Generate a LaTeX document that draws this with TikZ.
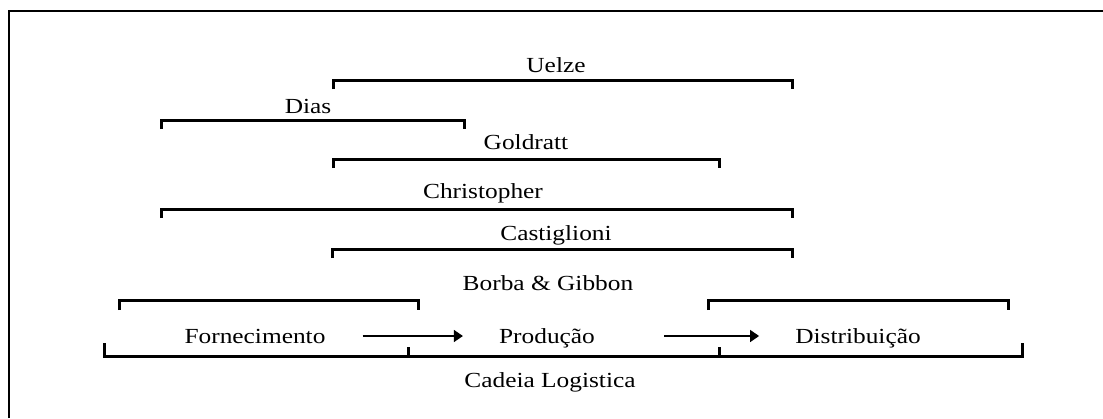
\documentclass[tikz,border=0pt]{standalone}
\usepackage{fontspec}
\setmainfont{Liberation Serif}[FakeStretch=1.18]
\usetikzlibrary{arrows.meta}
\tikzset{
    lbl/.style={inner sep=0pt, anchor=base, font=\fontsize{21.5}{25}\selectfont},
    brk/.style={line width=3pt, line join=miter},
    arr/.style={-{Triangle[length=9pt,width=12pt]}, line width=1.5pt}
}
\begin{document}
\begin{tikzpicture}[x=1pt, y=-1pt]
    \useasboundingbox (0,0) rectangle (1103,418);
    \draw[line width=2.8pt](9,418)--(9,11)--(1103,11);
% authors
\foreach \name/\txt/\xt/\yt/\xa/\xb/\yb in {uelze/Uelze/556/72/333/792/80,
    dias/Dias/308/113/161/464/120,
    goldratt/Goldratt/526/149/333/719/159,
    christopher/Christopher/483/198/161/792/209,
    castiglioni/Castiglioni/556/240/332/792/249}
{
    \node[lbl] (\name) at (\xt,\yt) {\txt};
    \draw[brk](\xa,\yb+9)--(\xa,\yb)--(\xb,\yb)--(\xb,\yb+9);
}
\node[lbl] (borba) at (548,290) {Borba \& Gibbon};
\foreach \xa/\xb in {119/418, 708/1008}
{
    \draw[brk](\xa,310)--(\xa,300)--(\xb,300)--(\xb,310);
}
% chain
\node[lbl] (forn) at (255,343) {Fornecimento};
\node[lbl] (prod) at (547,343) {Produção};
\node[lbl] (dist) at (858,343) {Distribuição};
\draw[arr, shorten <=37pt, shorten >=36pt]([yshift=7pt]forn.base east)--([yshift=7pt]prod.base west);
\draw[arr, shorten <=69pt, shorten >=36pt]([yshift=7pt]prod.base east)--([yshift=7pt]dist.base west);
\draw[brk](104,343)--(104,356)--(1022,356)--(1022,343);
\foreach \x in {408, 719}
{
    \draw[brk](\x,356)--(\x,347);
}
\node[lbl] (cadeia) at (550,387) {Cadeia Logistica};
\end{tikzpicture}
\end{document}
